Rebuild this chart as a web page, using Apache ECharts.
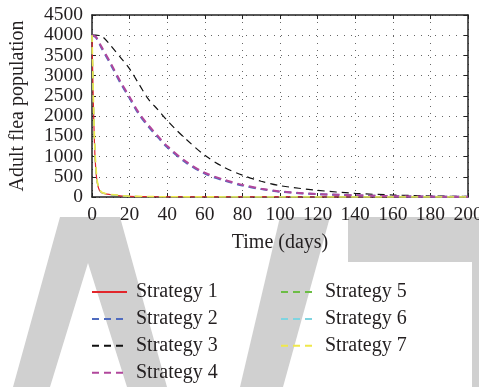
<!DOCTYPE html>
<html>
<head>
<meta charset="utf-8">
<script src="https://cdn.jsdelivr.net/npm/echarts@6/dist/echarts.min.js"></script>
<style>html,body{margin:0;padding:0;background:#fff}#c{width:479px;height:387px}</style>
</head>
<body>
<div id="c"></div>
<script>
// ---- data ----
const seriesNames = ['Strategy 1','Strategy 2','Strategy 3','Strategy 4','Strategy 5','Strategy 6','Strategy 7'];
const xTicks = [0,20,40,60,80,100,120,140,160,180,200];
const yTicks = [0,500,1000,1500,2000,2500,3000,3500,4000,4500];

const fastDays = [0,0.5,1,1.5,2,2.5,3,4,5,6,8,10,15,20,30,40,60,80,100,150,200];
const s1 = [4000,2800,1800,1100,700,450,300,160,110,90,70,55,30,15,8,5,2,1,1,0,0];
const s5 = [4000,2900,1900,1200,760,500,330,180,120,95,75,60,35,18,10,6,3,1,1,0,0];
const s6 = [4000,2850,1850,1150,730,470,310,170,115,92,72,57,32,16,9,5,2,1,1,0,0];
const s7 = [4000,2950,1950,1250,800,520,340,190,125,100,78,62,38,20,11,6,3,1,1,0,0];

const slowDays = [0,2,5,10,15,20,25,30,35,40,50,60,70,80,90,100,120,140,160,180,200];
const s2 = [4000,3950,3690,3270,2830,2440,2040,1740,1480,1230,850,580,410,285,195,130,70,40,20,10,5];
const s4 = [4000,3965,3720,3305,2865,2475,2075,1775,1510,1260,875,600,430,300,205,137,74,42,21,10,5];

const s3Days = [0,2,4,6,10,15,20,25,30,35,40,45,50,60,70,80,90,100,120,140,160,180,200];
const s3 = [4000,4000,3990,3950,3740,3460,3170,2790,2420,2160,1890,1650,1430,1030,740,540,390,280,165,90,50,25,12];

// ---- build ----
const pairs = (xs, ys) => xs.map((x, i) => [x, ys[i]]);
const font = 'Liberation Serif';
const txt = '#231f20';

const styles = [
  {color:'#e2262b', type:'solid', width:1.2},
  {color:'#4f6bbf', type:[7,5], width:2},
  {color:'#111111', type:[7,5], width:1.2},
  {color:'#b1479c', type:[7,5], width:2},
  {color:'#6cbd45', type:[7,5], width:1.2},
  {color:'#7fd4e0', type:[7,5], width:1.2},
  {color:'#efe84a', type:[7,5], width:1.6}
];
const dataSets = [pairs(fastDays,s1), pairs(slowDays,s2), pairs(s3Days,s3), pairs(slowDays,s4),
                  pairs(fastDays,s5), pairs(fastDays,s6), pairs(fastDays,s7)];

const series = seriesNames.map((n, i) => ({
  name: n, type: 'line', data: dataSets[i],
  symbol: 'circle', showSymbol: false,
  smooth: 0.3,
  lineStyle: {color: styles[i].color, type: styles[i].type, width: styles[i].width},
  itemStyle: {color: styles[i].color},
  z: 2 + i
}));

const gray = '#d0d0d0';
const mkLegendText = () => ({fontFamily: font, fontSize: 20, lineHeight: 20, color: txt, padding:[0,0,0,4]});
const chart = echarts.init(document.getElementById('c'), null, {renderer: 'canvas'});
chart.setOption({
  animation: false,
  backgroundColor: '#fff',
  graphic: [
    {type:'polygon', z:-100, shape:{points:[[60,217],[120,217],[167,387],[127,387],[88,263],[50,387],[13,387]]}, style:{fill:gray}},
    {type:'polygon', z:-100, shape:{points:[[280,217],[330,217],[283,387],[240,387]]}, style:{fill:gray}},
    {type:'polygon', z:-100, shape:{points:[[348,217],[479,217],[479,262],[348,262]]}, style:{fill:gray}},
    {type:'polygon', z:-100, shape:{points:[[472,262],[479,262],[479,387],[472,387]]}, style:{fill:gray}}
  ],
  grid: {left: 92, right: 11, top: 15, bottom: 190, containLabel: false, outerBoundsMode: 'none'},
  legend: [
    {data: seriesNames.slice(0,4), orient:'vertical', left: 91, top: 282, padding: 0, itemWidth: 35, itemHeight: 14, itemGap: 6.9,
     itemStyle:{opacity:0}, textStyle: mkLegendText()},
    {data: seriesNames.slice(4), orient:'vertical', left: 280, top: 282, padding: 0, itemWidth: 35, itemHeight: 14, itemGap: 6.9,
     itemStyle:{opacity:0}, textStyle: mkLegendText()}
  ],
  xAxis: [
    {type:'value', min: xTicks[0], max: xTicks[xTicks.length-1], interval: 20, position:'bottom',
     name:'Time (days)', nameLocation:'middle', nameGap: 36,
     nameTextStyle:{fontFamily: font, fontSize: 20, color: txt},
     axisLine:{show:true, onZero:false, lineStyle:{color:'#222', width:1.5}},
     axisTick:{show:true, inside:true, length:4, lineStyle:{color:'#222'}},
     axisLabel:{fontFamily: font, fontSize: 19.5, color: txt, margin: 8, showMaxLabel:true, formatter: v => String(v)},
     splitLine:{show:true, lineStyle:{color:'#666', type:[1,6], width:1}}},
    {type:'value', min: 0, max: 200, interval: 20, position:'top',
     axisLine:{show:true, onZero:false, lineStyle:{color:'#222', width:1.5}},
     axisTick:{show:true, inside:true, length:4, lineStyle:{color:'#222'}},
     axisLabel:{show:false}, splitLine:{show:false}}
  ],
  yAxis: [
    {type:'value', min: yTicks[0], max: yTicks[yTicks.length-1], interval: 500, position:'left',
     name:'Adult flea population', nameLocation:'middle', nameGap: 64, nameRotate: 90,
     nameTextStyle:{fontFamily: font, fontSize: 20, color: txt},
     axisLine:{show:true, onZero:false, lineStyle:{color:'#222', width:1.5}},
     axisTick:{show:true, inside:true, length:4, lineStyle:{color:'#222'}},
     axisLabel:{fontFamily: font, fontSize: 19.5, color: txt, margin: 9, formatter: v => String(v)},
     splitLine:{show:true, lineStyle:{color:'#666', type:[1,6], width:1}}},
    {type:'value', min: 0, max: 4500, interval: 500, position:'right',
     axisLine:{show:true, onZero:false, lineStyle:{color:'#222', width:1.5}},
     axisTick:{show:true, inside:true, length:4, lineStyle:{color:'#222'}},
     axisLabel:{show:false}, splitLine:{show:false}}
  ],
  series: series
});
</script>
</body>
</html>
